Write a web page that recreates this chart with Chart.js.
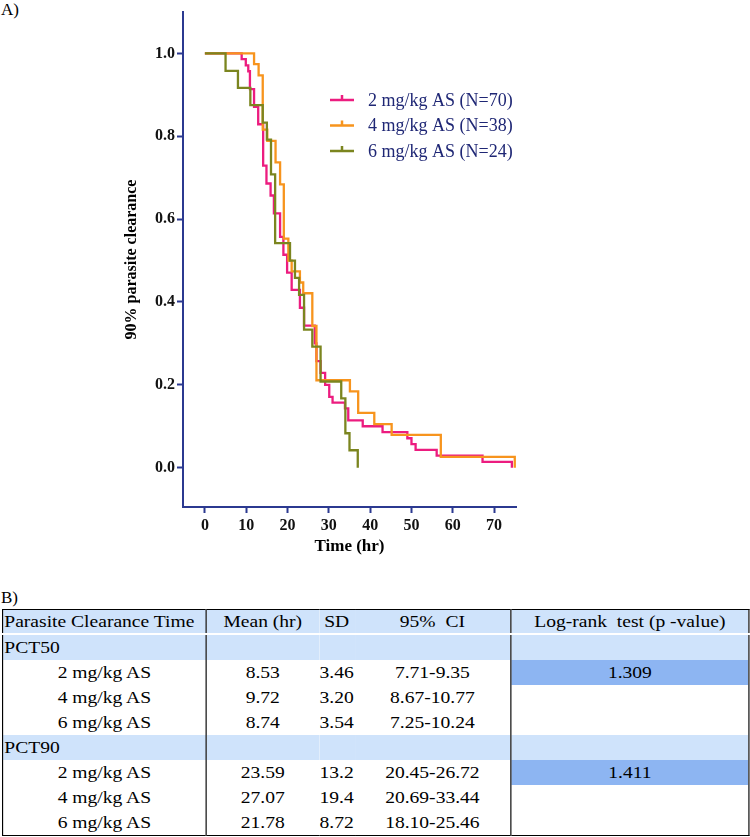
<!DOCTYPE html>
<html>
<head>
<meta charset="utf-8">
<script src="https://cdn.jsdelivr.net/npm/chart.js@4.4.0/dist/chart.umd.min.js"></script>
<style>
body{margin:0;background:#fff;width:750px;height:837px;position:relative;overflow:hidden;font-family:"Liberation Serif","Times New Roman",serif;}
#wrap{position:absolute;left:0;top:0;width:750px;height:600px;}
.lbl{position:absolute;font-size:17px;line-height:18px;color:#000;}
#tbl{position:absolute;left:2px;top:609px;width:649px;transform:scaleX(1.15);transform-origin:0 0;}
table{border-collapse:collapse;table-layout:fixed;width:649px;font-size:17px;border:1px solid #000;}
td{height:25px;padding:0;text-align:center;white-space:nowrap;overflow:hidden;}
td.c1{border-right:1px solid #000;}
td.c4{border-right:1px solid #000;}
tr.band td{background:#cfe3fb;}
tr.head td{border-bottom:2px solid #fff;height:23px;}
td.left{text-align:left;padding-left:1px;}
td.dark{background:#8db5f2;}
</style>
</head>
<body>
<div class="lbl" style="left:1px;top:1px;">A)</div>
<div class="lbl" style="left:1px;top:589px;">B)</div>
<div id="wrap"><canvas id="km" width="750" height="600"></canvas></div>
<div id="tbl"><table id="t">
<colgroup><col style="width:177px"><col style="width:98px"><col style="width:31px"><col style="width:136px"><col style="width:207px"></colgroup>
<tbody id="tbody"></tbody>
</table></div>
<script>
// Kaplan-Meier steps (time in hr, fraction remaining)
const time2 = [0, 8.9, 9.9, 10.5, 10.9, 11.9, 12.9, 14.1, 14.9, 15.9, 16.7, 18.2, 19.0, 19.9, 21.0, 23.0, 24.0, 26.6, 27.0, 28.0, 29.1, 30.1, 30.9, 33.9, 34.7, 38.2, 43.0, 49.0, 50.0, 51.0, 56.1, 67.2, 74.3];
const surv2 = [1, 0.986, 0.971, 0.957, 0.914, 0.871, 0.829, 0.729, 0.686, 0.657, 0.614, 0.557, 0.514, 0.471, 0.429, 0.386, 0.343, 0.300, 0.257, 0.229, 0.200, 0.171, 0.157, 0.143, 0.114, 0.100, 0.086, 0.071, 0.057, 0.043, 0.029, 0.014, 0];

const time4 = [0, 11.9, 13.0, 14.0, 15.1, 17.1, 18.2, 19.1, 20.2, 21.0, 23.0, 23.8, 26.0, 27.0, 35.1, 37.1, 41.0, 45.2, 57.1, 75.0];
const surv4 = [1, 0.974, 0.947, 0.816, 0.789, 0.737, 0.684, 0.553, 0.500, 0.474, 0.447, 0.421, 0.342, 0.211, 0.184, 0.132, 0.105, 0.079, 0.026, 0];

const time6 = [0, 5, 8, 11, 14, 15, 16, 17, 20.6, 21.8, 22.8, 24, 26, 28, 33, 34, 35, 37];
const surv6 = [1, 0.958, 0.917, 0.875, 0.833, 0.792, 0.708, 0.542, 0.5, 0.458, 0.417, 0.333, 0.292, 0.208, 0.167, 0.083, 0.042, 0];

const seriesNames = ['2 mg/kg AS (N=70)', '4 mg/kg AS (N=38)', '6 mg/kg AS (N=24)'];
const seriesColors = ['#ec1c7f', '#f7941d', '#7b851f'];

const xTicks = [0, 10, 20, 30, 40, 50, 60, 70];
const yTicks = [0, 0.2, 0.4, 0.6, 0.8, 1.0];

const tableHeader = ['Parasite Clearance Time', 'Mean (hr)', 'SD', '95%\u00a0\u00a0CI', 'Log-rank\u00a0\u00a0test (p -value)'];
const groups = ['PCT50', 'PCT90'];
const doses = ['2 mg/kg AS', '4 mg/kg AS', '6 mg/kg AS'];
const means = [['8.53', '9.72', '8.74'], ['23.59', '27.07', '21.78']];
const sds = [['3.46', '3.20', '3.54'], ['13.2', '19.4', '8.72']];
const cis = [['7.71-9.35', '8.67-10.77', '7.25-10.24'], ['20.45-26.72', '20.69-33.44', '18.10-25.46']];
const logrank = ['1.309', '1.411'];

const navy = '#2b3990';

function pts(t, s) {
    return t.map((v, i) => ({x: v, y: s[i]}));
}

const legendPlugin = {
    id: 'kmLegend',
    afterDraw(chart) {
        const ctx = chart.ctx;
        ctx.save();
        seriesNames.forEach((name, i) => {
            const y = 100 + i * 25.5;
            ctx.strokeStyle = seriesColors[i];
            ctx.lineWidth = 2.5;
            ctx.beginPath();
            ctx.moveTo(330, y);
            ctx.lineTo(354, y);
            ctx.moveTo(342, y);
            ctx.lineTo(342, y - 5);
            ctx.stroke();
            ctx.fillStyle = '#1f2775';
            ctx.font = '18px "Liberation Serif"';
            ctx.textBaseline = 'middle';
            ctx.fillText(name, 368, y + 1);
        });
        ctx.restore();
    }
};

const lineSet = (i, t, s, order) => ({
    label: seriesNames[i],
    data: pts(t, s),
    showLine: true,
    stepped: true,
    borderColor: seriesColors[i],
    borderWidth: 2.3,
    pointRadius: 0,
    fill: false,
    order: order
});

new Chart(document.getElementById('km'), {
    type: 'scatter',
    data: {
        datasets: [
            lineSet(0, time2, surv2, 3),
            lineSet(1, time4, surv4, 2),
            lineSet(2, time6, surv6, 1)
        ]
    },
    options: {
        responsive: false,
        animation: false,
        layout: {padding: {left: 122, right: 234, top: 12, bottom: 43}},
        plugins: {legend: {display: false}, tooltip: {enabled: false}},
        scales: {
            x: {
                type: 'linear',
                min: -5.3,
                max: 75.3,
                afterBuildTicks: (s) => { s.ticks = xTicks.map(v => ({value: v})); },
                afterFit: (s) => { s.height = 50; },
                grid: {drawOnChartArea: false, drawTicks: true, tickLength: 6, tickWidth: 2, tickColor: navy, color: navy},
                border: {display: true, color: navy, width: 2},
                ticks: {color: '#111', padding: 3, font: {family: 'Liberation Serif', size: 16, weight: 'bold'}},
                title: {display: true, text: 'Time (hr)', color: '#000', padding: 0, font: {family: 'Liberation Serif', size: 17, weight: 'bold'}}
            },
            y: {
                type: 'linear',
                min: -0.095,
                max: 1.1,
                afterBuildTicks: (s) => { s.ticks = yTicks.map(v => ({value: v})); },
                afterFit: (s) => { s.width = 61; },
                grid: {drawOnChartArea: false, drawTicks: true, tickLength: 6, tickWidth: 2, tickColor: navy, color: navy},
                border: {display: true, color: navy, width: 2},
                ticks: {color: '#111', padding: 2, font: {family: 'Liberation Serif', size: 16, weight: 'bold'}, callback: (v) => v.toFixed(1)},
                title: {display: true, text: '90% parasite clearance', color: '#000', padding: 0, font: {family: 'Liberation Serif', size: 16, weight: 'bold'}}
            }
        }
    },
    plugins: [legendPlugin]
});

// table
const tbody = document.getElementById('tbody');
function addRow(cells, cls) {
    const tr = document.createElement('tr');
    if (cls) tr.className = cls;
    cells.forEach((c, i) => {
        const td = document.createElement('td');
        td.textContent = c.text;
        let k = '';
        if (i === 0) k += ' c1';
        if (i === 3) k += ' c4';
        if (c.left) k += ' left';
        if (c.dark) k += ' dark';
        td.className = k.trim();
        tr.appendChild(td);
    });
    tbody.appendChild(tr);
}
addRow(tableHeader.map((h, i) => ({text: h, left: i === 0})), 'band head');
groups.forEach((g, gi) => {
    addRow([{text: g, left: true}, {text: ''}, {text: ''}, {text: ''}, {text: ''}], 'band');
    doses.forEach((d, di) => {
        addRow([
            {text: d},
            {text: means[gi][di]},
            {text: sds[gi][di]},
            {text: cis[gi][di]},
            {text: di === 0 ? logrank[gi] : '', dark: di === 0}
        ]);
    });
});
</script>
</body>
</html>
